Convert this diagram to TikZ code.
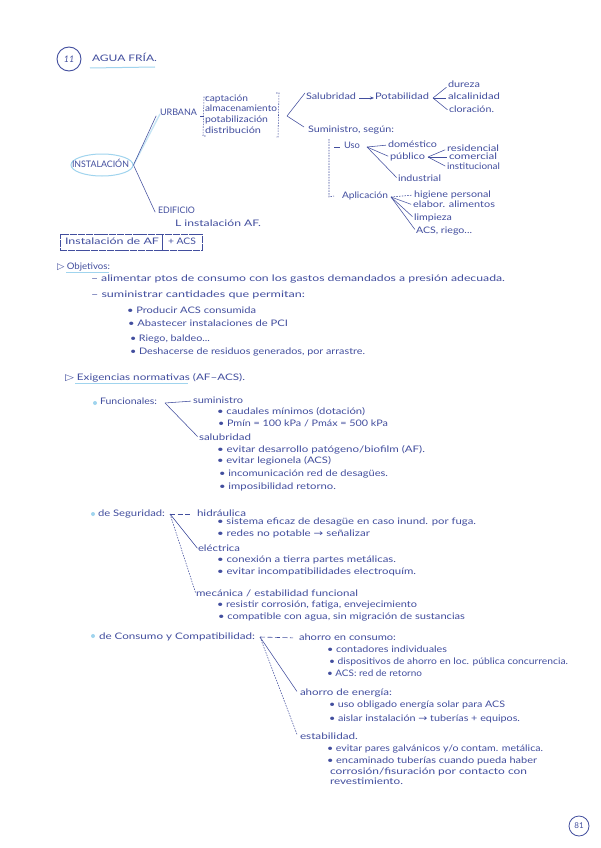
\documentclass[tikz,border=0pt]{standalone}
\usepackage{graphicx}
\usepackage{fontspec}
\setmainfont{Lato}
\newfontfamily\symf{DejaVu Sans}
\usetikzlibrary{arrows.meta,shapes.geometric}
\definecolor{ink}{RGB}{66,78,158}
\definecolor{sky}{RGB}{160,212,238}
\tikzset{
  hand/.style={inner sep=0pt,outer sep=0pt,text=ink,anchor=west,text height=6pt,text depth=2pt,font=\fontsize{9}{10}\selectfont},
  wire/.style={draw=ink,line width=0.55pt,shorten >=2pt},
  dotwire/.style={draw=ink,line width=0.55pt,dash pattern=on 1.5pt off 1.2pt,shorten >=2pt},
  dashwire/.style={draw=ink,line width=0.6pt,dash pattern=on 5pt off 2.5pt,shorten >=6pt},
  brack/.style={draw=ink,line width=0.55pt,dash pattern=on 1.5pt off 1.2pt},
  accent/.style={draw=sky,line width=1pt},
  dotb/.style={circle,fill=sky,inner sep=0pt,minimum size=4pt},
  framebox/.style={draw=ink,line width=0.6pt,dash pattern=on 7pt off 0.8pt,inner sep=0pt}
}
\newcommand\Tx[5]{\node[hand] (#1) at (#2,#4) {\resizebox{\dimexpr#3pt-#2pt\relax}{\height}{#5}};}
\begin{document}
\begin{tikzpicture}[x=1pt,y=-1pt]
\useasboundingbox (0,0) rectangle (600,848);
\fill[white] (0,0) rectangle (600,848);
% title
\node[circle,draw=ink,line width=0.9pt,minimum size=24pt,inner sep=0pt,text=ink,font=\fontsize{9}{10}\itshape] (num) at (69,59) {11};
\Tx{title}{92}{157}{60}{AGUA FRÍA.}
\draw[accent] (90,68) -- (155,67);
% tree
\node[draw=sky,line width=1pt,ellipse,minimum width=62pt,minimum height=22pt,inner sep=0pt] (instE) at (102,165) {};
\Tx{inst}{72}{129}{165}{INSTALACIÓN}
\Tx{urb}{160}{197}{114}{URBANA}
\Tx{edi}{158}{195}{211}{EDIFICIO}
\Tx{lain}{175}{261}{224}{L instalación AF.}
\draw[accent,line width=1.4pt,opacity=.6] (instE.east) -- (urb.west);
\draw[wire] (instE.east) -- ([xshift=-3pt]urb.west);
\draw[wire] (instE.east) -- ([xshift=-2pt,yshift=-3pt]edi.west);
\Tx{cap}{205}{248}{100}{captación}
\Tx{alm}{205}{277}{110}{almacenamiento}
\Tx{pot}{205}{268}{121}{potabilización}
\Tx{dis}{205}{261}{132}{distribución}
\draw[brack] (207,97) -- (204,97) -- (203,136) -- (206,136);
\draw[wire,shorten >=0pt] (200,116) -- (203,116);
\draw[brack] (276,93) -- (279,93) -- (278,137) -- (276,137);
\coordinate (f1) at (287,116);
\Tx{sal}{306}{356}{98}{Salubridad}
\Tx{sum}{308}{394}{130}{Suministro, según:}
\draw[wire,shorten >=0pt] (f1) -- ([xshift=-1pt,yshift=5pt]sal.west);
\draw[wire,shorten >=0pt] (f1) -- ([xshift=-4pt,yshift=3pt]sum.west);
\Tx{pota}{375}{429}{98}{Potabilidad}
\draw[wire,shorten >=0pt,-{Stealth[length=4pt,width=3pt]}] ([xshift=3pt]sal.east) -- ([xshift=-1pt]pota.west);
\coordinate (f2) at (433,98);
\Tx{dur}{448}{480}{86}{dureza}
\Tx{alc}{448}{500}{98}{alcalinidad}
\Tx{clo}{449}{494}{111}{cloración.}
\draw[wire] (f2) -- (dur.west); \draw[wire] (f2) -- (alc.west); \draw[wire] (f2) -- (clo.west);
\Tx{uso}{344}{360}{147}{Uso}
\Tx{apl}{342}{388}{196}{Aplicación}
\coordinate (v1) at (329,139);
\coordinate (v2) at (329,197);
\draw[brack] (v1) -- (v2) -- ([xshift=-8pt]apl.west);
\draw[wire,shorten >=0pt] (334,147) -- ([xshift=-4pt]uso.west);
\coordinate (f3) at (367,147);
\Tx{dom}{388}{437}{145}{doméstico}
\Tx{pub}{390}{425}{157}{público}
\Tx{ind}{398}{441}{179}{industrial}
\draw[wire] (f3) -- (dom.west); \draw[wire] (f3) -- (pub.west); \draw[wire] (f3) -- (ind.west);
\coordinate (f4) at (428,157);
\Tx{res}{447}{499}{149}{residencial}
\Tx{com}{449}{497}{157}{comercial}
\Tx{ins}{447}{500}{167}{institucional}
\draw[wire] (f4) -- (res.west); \draw[wire] (f4) -- (com.west); \draw[wire] (f4) -- (ins.west);
\coordinate (f5) at (391,197);
\Tx{hig}{414}{491}{195}{higiene personal}
\Tx{ela}{413}{495}{205}{elabor. alimentos}
\Tx{lim}{414}{452}{218}{limpieza}
\Tx{acs}{416}{472}{231}{ACS, riego...}
\draw[dotwire] (f5) -- (hig.west); \draw[wire] (f5) -- (ela.west); \draw[wire] (f5) -- (lim.west); \draw[wire] (f5) -- (acs.west);
% boxes
\node[framebox,minimum width=102pt,minimum height=16pt] (bA) at (111,242) {};
\node[framebox,minimum width=40pt,minimum height=16pt] (bB) at (182,242) {};
\Tx{bAt}{65}{159}{242}{Instalación de AF}
\Tx{bBt}{168}{196}{242}{+ ACS}
% objetivos
\Tx{obj}{57}{110}{267}{{\symf ▷} Objetivos:}
\draw[accent,line width=.7pt] (66,272) -- (109,272);
\Tx{o1}{91}{505}{279}{– alimentar ptos de consumo con los gastos demandados a presión adecuada.}
\Tx{o2}{91}{305}{295}{– suministrar cantidades que permitan:}
\Tx{o3}{127}{256}{311}{• Producir ACS consumida}
\Tx{o4}{128}{288}{324}{• Abastecer instalaciones de PCI}
\Tx{o5}{130}{210}{339}{• Riego, baldeo...}
\Tx{o6}{130}{365}{352}{• Deshacerse de residuos generados, por arrastre.}
\Tx{exi}{65}{245}{378}{{\symf ▷} Exigencias normativas (AF–ACS).}
\draw[accent,line width=.7pt] (75,383) -- (188,383);
% funcionales
\node[dotb] (b1) at (95,403) {};
\Tx{fun}{100}{157}{402}{Funcionales:}
\coordinate (j1) at (165,403);
\Tx{s1}{193}{243}{401}{suministro}
\draw[wire] (j1) -- (s1.west);
\Tx{s2}{217}{365}{412}{• caudales mínimos (dotación)}
\Tx{s3}{218}{388}{424}{• Pmín = 100 kPa / Pmáx = 500 kPa}
\Tx{s4}{199}{251}{438}{salubridad}
\draw[wire] (j1) -- (s4.west);
\Tx{s5}{217}{425}{450}{• evitar desarrollo patógeno/biofilm (AF).}
\Tx{s6}{217}{331}{461}{• evitar legionela (ACS)}
\Tx{s7}{219}{388}{474}{• incomunicación red de desagües.}
\Tx{s8}{219}{336}{487}{• imposibilidad retorno.}
% seguridad
\node[dotb] (b2) at (93,514) {};
\Tx{seg}{98}{165}{514}{de Seguridad:}
\coordinate (j2) at (170,514);
\Tx{h1}{197}{246}{514}{hidráulica}
\draw[dashwire] (j2) -- (h1.west);
\Tx{h2}{217}{476}{522}{• sistema eficaz de desagüe en caso inund. por fuga.}
\Tx{h3}{217}{370}{534}{• redes no potable {\symf →} señalizar}
\Tx{e1}{198}{240}{549}{eléctrica}
\draw[wire,shorten >=1pt] (j2) -- (e1.west);
\Tx{e2}{217}{396}{560}{• conexión a tierra partes metálicas.}
\Tx{e3}{217}{416}{572}{• evitar incompatibilidades electroquím.}
\Tx{m1}{196}{358}{594}{mecánica / estabilidad funcional}
\draw[dotwire,shorten >=1pt] (j2) -- (m1.west);
\Tx{m2}{217}{417}{605}{• resistir corrosión, fatiga, envejecimiento}
\Tx{m3}{218}{465}{617}{• compatible con agua, sin migración de sustancias}
% consumo
\node[dotb] (b3) at (93,636) {};
\Tx{con}{99}{255}{637}{de Consumo y Compatibilidad:}
\coordinate (j3) at (260,637);
\Tx{a1}{299}{396}{638}{ahorro en consumo:}
\draw[dashwire] (j3) -- (a1.west);
\Tx{a2}{327}{447}{650}{• contadores individuales}
\Tx{a3}{329}{568}{662}{• dispositivos de ahorro en loc. pública concurrencia.}
\Tx{a4}{327}{422}{674}{• ACS: red de retorno}
\Tx{n1}{300}{392}{693}{ahorro de energía:}
\draw[wire] (j3) -- ([xshift=-2pt]n1.west);
\Tx{n2}{329}{505}{705}{• uso obligado energía solar para ACS}
\Tx{n3}{329}{520}{719}{• aislar instalación {\symf →} tuberías + equipos.}
\Tx{t1}{300}{358}{737}{estabilidad.}
\draw[dotwire] (j3) -- ([xshift=-2pt]t1.west);
\Tx{t2}{327}{543}{749}{• evitar pares galvánicos y/o contam. metálica.}
\Tx{t3}{327}{537}{761}{• encaminado tuberías cuando pueda haber}
\Tx{t4}{330}{527}{772}{corrosión/fisuración por contacto con}
\Tx{t5}{330}{403}{782}{revestimiento.}
% page number
\node[circle,draw=ink,line width=0.8pt,minimum size=20pt,inner sep=0pt,text=ink,font=\fontsize{8}{9}\selectfont] (pg) at (579,826) {81};
\end{tikzpicture}
\end{document}
